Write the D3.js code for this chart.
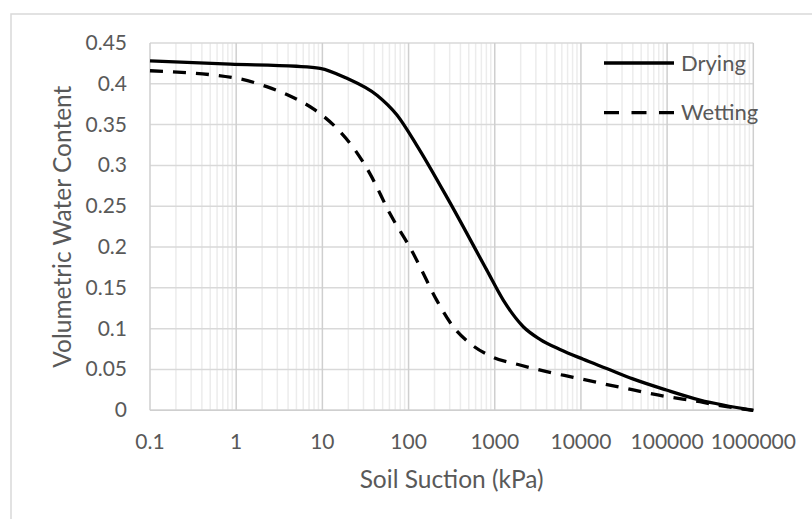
<!DOCTYPE html>
<html><head><meta charset="utf-8">
<script src="https://cdn.jsdelivr.net/npm/d3@7"></script>
<style>body{margin:0;background:#fff;} text{font-family:Lato,"Open Sans",sans-serif;fill:#595959;}</style>
</head><body>
<svg id="c" width="812" height="519"></svg>
<script>
const dryingX = [0.1, 0.85, 5, 9.4, 19, 43, 73, 124, 300, 806, 1256, 2143, 3350, 5715, 10640, 19900, 40000, 98000, 240000, 1000000];
const dryingY = [0.428, 0.424, 0.4215, 0.419, 0.407, 0.386, 0.362, 0.325, 0.255, 0.172, 0.135, 0.1024, 0.087, 0.0745, 0.0625, 0.0512, 0.0385, 0.0249, 0.0126, 0.0];
const wettingX = [0.1, 1.01, 2.26, 4.4, 8.2, 14.7, 23.9, 35.6, 60.8, 113.5, 135.5, 212, 330, 516, 962, 1963, 4000, 8150, 40450, 100000, 240000, 374000, 1000000];
const wettingY = [0.416, 0.4068, 0.3965, 0.3842, 0.368, 0.3455, 0.319, 0.290, 0.241, 0.192, 0.176, 0.135, 0.1024, 0.082, 0.0649, 0.0555, 0.0473, 0.0404, 0.0249, 0.0167, 0.0105, 0.0065, 0.0];
const xTicks = [0.1, 1, 10, 100, 1000, 10000, 100000, 1000000];
const xTickLabels = ["0.1", "1", "10", "100", "1000", "10000", "100000", "1000000"];
const yTicks = [0, 0.05, 0.1, 0.15, 0.2, 0.25, 0.3, 0.35, 0.4, 0.45];
const yTickLabels = ["0", "0.05", "0.1", "0.15", "0.2", "0.25", "0.3", "0.35", "0.4", "0.45"];
const seriesNames = ["Drying", "Wetting"];

const svg = d3.select("#c");
const L = 150, R = 753.3, T = 43, B = 410.3;
const x = d3.scaleLog().domain([0.1, 1000000]).range([L, R]);
const y = d3.scaleLinear().domain([0, 0.45]).range([B, T]);

// outer chart border
svg.append("rect").attr("x", 11).attr("y", 14).attr("width", 900).attr("height", 600)
  .attr("fill", "none").attr("stroke", "#d9d9d9").attr("stroke-width", 1.5);

// minor vertical gridlines
const minor = [];
for (let e = -1; e < 6; e++) for (let m = 2; m <= 9; m++) minor.push(m * Math.pow(10, e));
svg.append("g").selectAll("line").data(minor).join("line")
  .attr("x1", d => x(d)).attr("x2", d => x(d)).attr("y1", T).attr("y2", B)
  .attr("stroke", "#ececec").attr("stroke-width", 1.5);

// horizontal gridlines
svg.append("g").selectAll("line").data(yTicks).join("line")
  .attr("x1", L).attr("x2", R).attr("y1", d => y(d)).attr("y2", d => y(d))
  .attr("stroke", "#d9d9d9").attr("stroke-width", 1.5);

// major vertical gridlines
svg.append("g").selectAll("line").data(xTicks).join("line")
  .attr("x1", d => x(d)).attr("x2", d => x(d)).attr("y1", T).attr("y2", B)
  .attr("stroke", "#cfcfcf").attr("stroke-width", 1.5);

// x axis line
svg.append("line").attr("x1", L).attr("x2", R).attr("y1", B).attr("y2", B)
  .attr("stroke", "#cfcfcf").attr("stroke-width", 1.5);

// tick labels
svg.append("g").selectAll("text").data(xTicks).join("text")
  .attr("x", d => x(d)).attr("y", 449).attr("text-anchor", "middle")
  .style("font-size", "21px").text((d, i) => xTickLabels[i]);
svg.append("g").selectAll("text").data(yTicks).join("text")
  .attr("x", 127).attr("y", d => y(d) + 7).attr("text-anchor", "end")
  .style("font-size", "21px").text((d, i) => yTickLabels[i]);

// axis titles
svg.append("text").attr("x", (L + R) / 2).attr("y", 488).attr("text-anchor", "middle")
  .style("font-size", "24.5px").text("Soil Suction (kPa)");
svg.append("text").attr("transform", `translate(71,${(T + B) / 2}) rotate(-90)`).attr("text-anchor", "middle")
  .style("font-size", "24.5px").text("Volumetric Water Content");

// curves
const line = d3.line().x(d => x(d[0])).y(d => y(d[1])).curve(d3.curveMonotoneX);
const dry = dryingX.map((v, i) => [v, dryingY[i]]);
const wet = wettingX.map((v, i) => [v, wettingY[i]]);
svg.append("path").attr("d", line(dry)).attr("fill", "none").attr("stroke", "#000").attr("stroke-width", 3.3);
svg.append("path").attr("d", line(wet)).attr("fill", "none").attr("stroke", "#000").attr("stroke-width", 3.3)
  .attr("stroke-dasharray", "13,10");

// legend
const leg = svg.append("g");
const ly = [63, 112.7];
seriesNames.forEach((n, i) => {
  leg.append("line").attr("x1", 604).attr("x2", 674).attr("y1", ly[i]).attr("y2", ly[i])
    .attr("stroke", "#000").attr("stroke-width", 3.3)
    .attr("stroke-dasharray", i === 1 ? "15,12.5" : null);
  leg.append("text").attr("x", 681).attr("y", ly[i] + 7.5).style("font-size", "22px").text(n);
});
</script>
</body></html>
